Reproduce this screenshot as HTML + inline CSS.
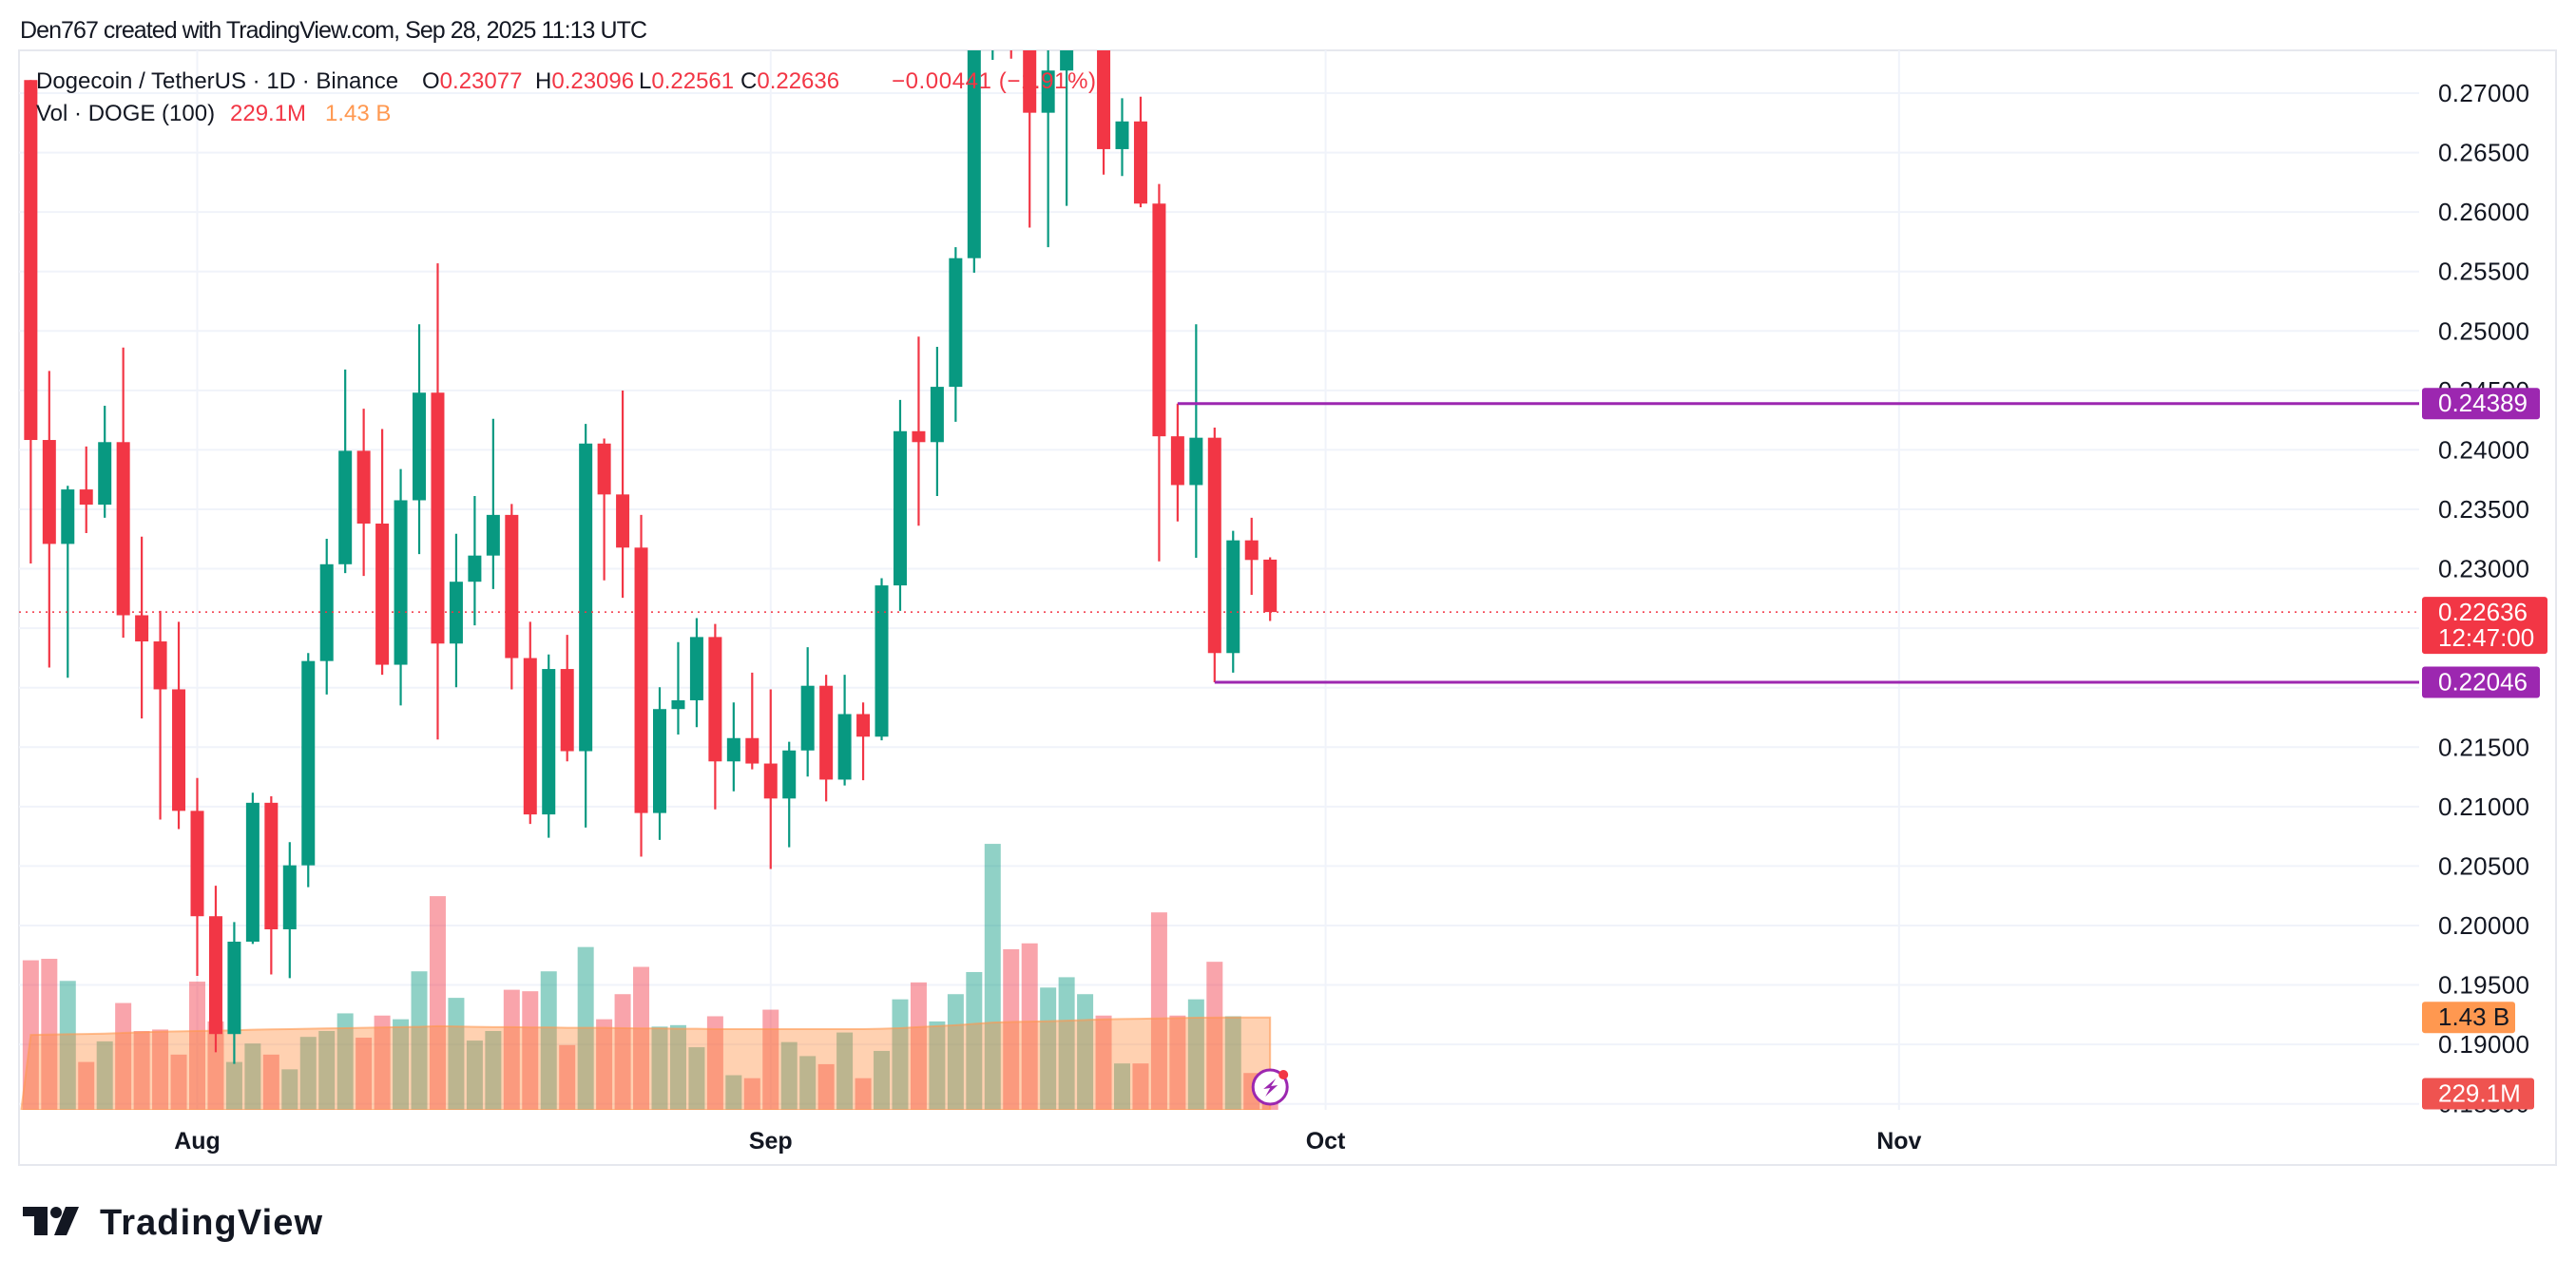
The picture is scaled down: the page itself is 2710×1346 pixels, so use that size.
<!DOCTYPE html>
<html><head><meta charset="utf-8"><style>
html,body{margin:0;padding:0;background:#fff;}
svg{display:block;font-family:"Liberation Sans",sans-serif;}
</style></head><body>
<svg id="chart" width="2710" height="1346" viewBox="0 0 2710 1346" xmlns="http://www.w3.org/2000/svg">
<defs><clipPath id="plotClip"><rect x="20" y="53" width="2525" height="1115"/></clipPath></defs>
<rect x="0" y="0" width="2710" height="1346" fill="#fff"/>
<text x="21" y="40" font-size="25" fill="#131722" textLength="660">Den767 created with TradingView.com, Sep 28, 2025 11:13 UTC</text>
<rect x="20" y="53" width="2669" height="1173" fill="none" stroke="#e6e8ee" stroke-width="2"/>
<g id="grid"></g>
<g id="volume" clip-path="url(#plotClip)"></g>
<g id="candles" clip-path="url(#plotClip)"></g>
<g id="overlays"></g>
<g id="axis"></g>
<g font-size="24">
<text x="38" y="93" fill="#131722">Dogecoin / TetherUS · 1D · Binance</text>
<text x="444" y="93" fill="#131722">O<tspan fill="#f23645">0.23077</tspan></text>
<text x="563" y="93" fill="#131722">H<tspan fill="#f23645">0.23096</tspan></text>
<text x="672" y="93" fill="#131722">L<tspan fill="#f23645">0.22561</tspan></text>
<text x="779" y="93" fill="#131722">C<tspan fill="#f23645">0.22636</tspan></text>
<text x="938" y="93" fill="#f23645" textLength="215">−0.00441 (−1.91%)</text>
<text x="38" y="127" fill="#131722">Vol · DOGE (100)</text>
<text x="242" y="127" fill="#f23645">229.1M</text>
<text x="342" y="127" fill="#ff9850">1.43 B</text>
</g>
<g>
<rect x="24" y="1270" width="26" height="10" fill="#131722"/>
<rect x="36" y="1270" width="14" height="30" fill="#131722"/>
<circle cx="59" cy="1276" r="6" fill="#131722"/>
<polygon points="69,1270 83,1270 70,1300 57,1300" fill="#131722"/>
<text x="105" y="1299" font-size="38" font-weight="bold" fill="#131722" textLength="234">TradingView</text>
</g>
</svg>
<script>
const openP  = [0.27110,0.24083,0.23209,0.23667,0.23539,0.24065,0.22609,0.22389,0.21986,0.20964,0.20078,0.19087,0.19864,0.21032,0.19968,0.20506,0.22224,0.23038,0.23992,0.23380,0.22193,0.23576,0.24481,0.22371,0.22891,0.23111,0.23453,0.22249,0.20934,0.22157,0.21466,0.24053,0.23625,0.23178,0.20946,0.21820,0.21894,0.22426,0.21380,0.21576,0.21362,0.21068,0.21472,0.22016,0.21227,0.21778,0.21588,0.22860,0.24157,0.24065,0.24530,0.25612,0.2760,0.2785,0.2770,0.26835,0.27190,0.2760,0.2790,0.26529,0.26762,0.26071,0.24114,0.23704,0.24102,0.22291,0.23239,0.23077];
const highP  = [0.27110,0.24664,0.23698,0.24028,0.24371,0.24860,0.23270,0.22646,0.22554,0.21240,0.20334,0.20029,0.21117,0.21087,0.20701,0.22291,0.23252,0.24676,0.24346,0.24175,0.23839,0.25056,0.25569,0.23294,0.23612,0.24261,0.23545,0.22554,0.22279,0.22444,0.24218,0.24095,0.24499,0.23453,0.22004,0.22383,0.22585,0.22536,0.21876,0.22126,0.21986,0.21545,0.22340,0.22108,0.22108,0.21876,0.22921,0.24420,0.24952,0.24866,0.25704,0.2775,0.2800,0.2810,0.2790,0.2750,0.2785,0.2810,0.2800,0.26957,0.26970,0.26236,0.24389,0.25056,0.24187,0.23319,0.23429,0.23096];
const lowP   = [0.23044,0.22169,0.22084,0.23300,0.23429,0.22420,0.21741,0.20891,0.20811,0.19576,0.18934,0.18836,0.19845,0.19588,0.19557,0.20322,0.21943,0.22964,0.22940,0.22108,0.21851,0.23123,0.21564,0.22004,0.22524,0.22830,0.21986,0.20854,0.20738,0.21380,0.20824,0.22903,0.22756,0.20579,0.20720,0.21606,0.21668,0.20977,0.21129,0.21313,0.20475,0.20658,0.21252,0.21044,0.21178,0.21221,0.21557,0.22646,0.23362,0.23612,0.24236,0.25490,0.2728,0.2729,0.25869,0.25704,0.26052,0.2745,0.26315,0.26303,0.26040,0.23062,0.23398,0.23092,0.22046,0.22126,0.22781,0.22561];
const closeP = [0.24083,0.23209,0.23667,0.23539,0.24065,0.22609,0.22389,0.21986,0.20964,0.20078,0.19087,0.19864,0.21032,0.19968,0.20506,0.22224,0.23038,0.23992,0.23380,0.22193,0.23576,0.24481,0.22371,0.22891,0.23111,0.23453,0.22249,0.20934,0.22157,0.21466,0.24053,0.23625,0.23178,0.20946,0.21820,0.21894,0.22426,0.21380,0.21576,0.21362,0.21068,0.21472,0.22016,0.21227,0.21778,0.21588,0.22860,0.24157,0.24065,0.24530,0.25612,0.2760,0.2785,0.2770,0.26835,0.27190,0.2760,0.2790,0.26529,0.26762,0.26071,0.24114,0.23704,0.24102,0.22291,0.23239,0.23074,0.22636];
const volumeM = [2314,2337,1995,741,1060,1653,1220,1243,855,1984,1368,741,1026,855,627,1129,1220,1493,1117,1459,1402,2143,3306,1733,1072,1220,1858,1835,2143,1003,2519,1402,1790,2212,1288,1311,969,1448,536,490,1550,1049,832,707,1197,490,912,1710,1972,1368,1790,2132,4115,2485,2576,1892,2052,1790,1459,718,718,3055,1459,1710,2291,1448,570,229];
const volumeMA = [1160,1165,1170,1175,1180,1190,1200,1210,1215,1220,1225,1230,1240,1245,1250,1255,1260,1265,1270,1275,1280,1285,1295,1290,1285,1280,1280,1275,1275,1270,1270,1270,1265,1260,1260,1255,1255,1250,1250,1250,1250,1250,1250,1250,1250,1250,1255,1265,1280,1295,1310,1330,1350,1360,1365,1370,1380,1390,1400,1405,1410,1415,1420,1425,1428,1430,1430,1430];
const priceTicks = [0.185,0.19,0.195,0.2,0.205,0.21,0.215,0.22,0.225,0.23,0.235,0.24,0.245,0.25,0.255,0.26,0.265,0.27];
const monthLabels = ["Aug","Sep","Oct","Nov"];
const monthDayOffsets = [0,31,61,92];
const startDayOffset = -9; // Jul 23 relative to Aug 1
const levelHigh = 0.24389, levelLow = 0.22046, lastPrice = 0.22636;
const levelHighIdx = 62, levelLowIdx = 64;

const NS = "http://www.w3.org/2000/svg";
const PLOT_L = 20, PLOT_R = 2545, PLOT_T = 53, PLOT_B = 1168;
const X_AUG1 = 207.5, PX_DAY = 19.46;
const Y_REF = 98, P_REF = 0.27, PX_PER_UNIT = 12514;
const VOL_PX_PER_M = 1 / 14.7;
function dayX(d){ return X_AUG1 + d * PX_DAY; }
function candleX(i){ return dayX(startDayOffset + i); }
function priceY(p){ return Y_REF + (P_REF - p) * PX_PER_UNIT; }
function volY(v){ return PLOT_B - v * VOL_PX_PER_M; }
function mk(tag, attrs, parent){
  const el = document.createElementNS(NS, tag);
  for (const k in attrs) el.setAttribute(k, attrs[k]);
  parent.appendChild(el);
  return el;
}
const grid = document.getElementById('grid');
const axis = document.getElementById('axis');
priceTicks.forEach(function(p){
  const y = priceY(p);
  const gl = mk('line', {x1:PLOT_L, x2:PLOT_R, y1:y, y2:y, stroke:'#f0f3fa', 'stroke-width':2}, grid);
  
  
  const t = mk('text', {x:2565, y:y+9, 'font-size':26, fill:'#131722', textLength:96}, axis);
  t.textContent = p.toFixed(5);
  
  
});
monthLabels.forEach(function(m, k){
  const x = dayX(monthDayOffsets[k]);
  const vl = mk('line', {x1:x, x2:x, y1:PLOT_T, y2:PLOT_B, stroke:'#f0f3fa', 'stroke-width':2}, grid);
  
  
  const t = mk('text', {x:x, y:1209, 'font-size':25, 'font-weight':'bold', fill:'#131722', 'text-anchor':'middle'}, axis);
  t.textContent = m;
  
  
});
// volume
const vg = document.getElementById('volume');
volumeM.forEach(function(v, i){
  const up = closeP[i] >= openP[i];
  const x = candleX(i);
  const r = mk('rect', {x:x-8.5, y:volY(v), width:17, height:v*VOL_PX_PER_M, fill: up ? 'rgba(8,153,129,0.45)' : 'rgba(242,54,69,0.45)'}, vg);
  
  
});
let d = 'M' + (candleX(0)-10) + ',' + PLOT_B;
volumeMA.forEach(function(v, i){ d += ' L' + candleX(i) + ',' + volY(v); });
d += ' L' + candleX(volumeMA.length-1) + ',' + PLOT_B + ' Z';
const area = mk('path', {d:d, fill:'rgba(255,140,60,0.4)', stroke:'rgba(255,152,80,0.6)', 'stroke-width':2}, vg);


// candles
const cg = document.getElementById('candles');
openP.forEach(function(o, i){
  const c = closeP[i], up = c >= o, col = up ? '#089981' : '#f23645';
  const x = candleX(i);
  const g = mk('g', {}, cg);
  
  
  mk('line', {x1:x, x2:x, y1:priceY(highP[i]), y2:priceY(lowP[i]), stroke:col, 'stroke-width':2.2}, g);
  const top = priceY(Math.max(o, c)), bot = priceY(Math.min(o, c));
  mk('rect', {x:x-7, y:top, width:14, height:Math.max(2, bot-top), fill:col}, g);
});
// overlays
const ov = document.getElementById('overlays');
const yl = priceY(lastPrice);
const dl = mk('line', {x1:PLOT_L, x2:PLOT_R, y1:yl, y2:yl, stroke:'#f23645', 'stroke-width':1.5, 'stroke-dasharray':'2 5'}, ov);


const yh = priceY(levelHigh), ylo = priceY(levelLow);
const hl = mk('line', {x1:candleX(levelHighIdx), x2:PLOT_R, y1:yh, y2:yh, stroke:'#9c27b0', 'stroke-width':3}, ov);


const ll = mk('line', {x1:candleX(levelLowIdx), x2:PLOT_R, y1:ylo, y2:ylo, stroke:'#9c27b0', 'stroke-width':3}, ov);


function badge(y, w, h, fill, lines, name, tc){
  const g = mk('g', {}, axis);
  
  
  mk('rect', {x:2548, y:y - h/2, width:w, height:h, rx:3, fill:fill}, g);
  lines.forEach(function(s, k){
    const t = mk('text', {x:2565, y:y - h/2 + 25 + k*27, 'font-size':26, fill:tc}, g);
    t.textContent = s;
  });
}
badge(yh, 124, 33, '#9c27b0', [levelHigh.toFixed(5)], 'resistance-price-badge', '#fff');
badge(ylo, 124, 33, '#9c27b0', [levelLow.toFixed(5)], 'support-price-badge', '#fff');
badge(yl + 14, 132, 60, '#f23645', [lastPrice.toFixed(5), '12:47:00'], 'last-price-badge', '#fff');
badge(volY(volumeMA[volumeMA.length-1]), 98, 33, '#ff9850', ['1.43 B'], 'volume-ma-badge', '#131722');
badge(1151, 118, 33, '#ef5350', ['229.1M'], 'volume-badge', '#fff');
// icon
const ic = mk('g', {}, ov);


const ix = candleX(openP.length-1), iy = 1144;
mk('circle', {cx:ix, cy:iy, r:18, fill:'#fff', stroke:'#9c27b0', 'stroke-width':3}, ic);
mk('path', {d:'M'+(ix+6)+','+(iy-9)+' L'+(ix-7)+','+(iy+2)+' L'+(ix)+','+(iy+1)+' L'+(ix-5)+','+(iy+10)+' L'+(ix+8)+','+(iy-2)+' L'+(ix+1)+','+(iy-1)+' Z', fill:'#9c27b0'}, ic);
mk('circle', {cx:ix+14, cy:iy-13, r:5, fill:'#f23645'}, ic);
</script>
</body></html>
